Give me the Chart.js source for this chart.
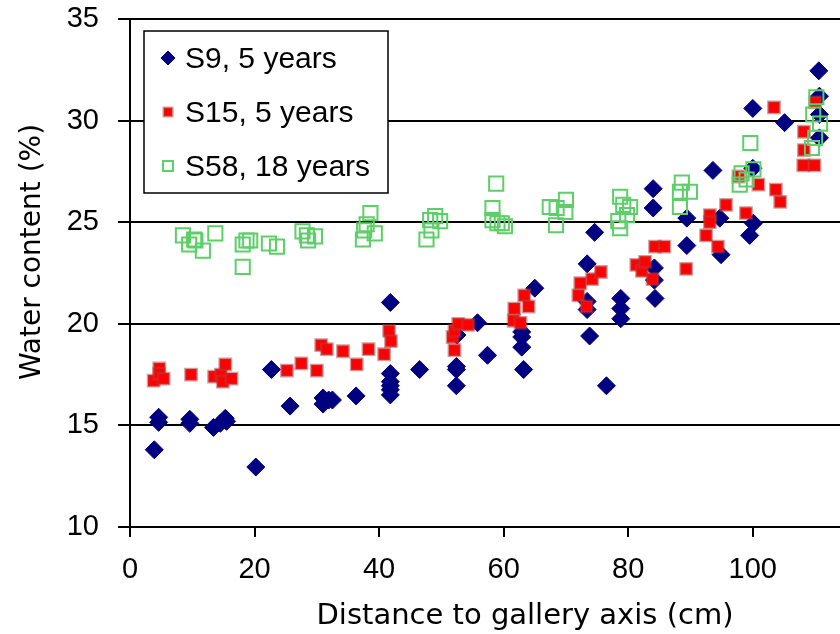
<!DOCTYPE html>
<html>
<head>
<meta charset="utf-8">
<script src="https://cdn.jsdelivr.net/npm/chart.js@4.4.1/dist/chart.umd.min.js"></script>
<style>
  html, body { margin: 0; padding: 0; background: #fff; overflow: hidden; }
</style>
</head>
<body>
<canvas id="waterChart" width="840" height="634"></canvas>
<script>
// S9, 5 years
const distS9 = [3.9, 4.6, 4.6, 9.6, 9.6, 13.4, 14.5, 15.3, 15.5, 20.2, 22.7, 25.7, 31.0, 31.0, 31.9, 32.5, 36.3,
  41.8, 41.8, 41.8, 41.8, 41.8, 41.8, 46.5, 52.4, 52.4, 52.4, 52.5, 55.8, 57.4, 62.9, 62.9, 62.9, 63.2, 65.0,
  73.4, 73.4, 73.4, 73.8, 74.6, 76.5, 78.8, 78.8, 78.8, 84.0, 84.0, 84.2, 84.2, 84.3, 89.4, 89.4, 93.6, 94.7,
  94.9, 99.5, 100.0, 100.1, 100.0, 105.1, 110.6, 110.7, 110.7, 110.7];
const wcS9 = [13.8, 15.4, 15.15, 15.3, 15.1, 14.9, 15.1, 15.35, 15.2, 12.95, 17.75, 15.95, 16.35, 16.05, 16.25, 16.25, 16.45,
  21.05, 17.55, 17.15, 16.95, 16.75, 16.5, 17.75, 17.9, 17.75, 16.95, 19.45, 20.05, 18.45, 19.6, 19.35, 18.85, 17.75, 21.75,
  22.95, 21.1, 20.7, 19.4, 24.5, 16.95, 21.25, 20.75, 20.25, 26.65, 25.7, 22.75, 22.15, 21.25, 25.2, 23.85, 27.55, 25.2,
  23.4, 24.35, 30.6, 24.95, 27.65, 29.9, 32.45, 31.2, 30.3, 29.15];

// S15, 5 years
const distS15 = [3.8, 4.7, 4.7, 5.4, 9.8, 13.5, 14.6, 14.9, 15.3, 16.3, 25.2, 27.5, 30.0, 30.7, 31.6, 34.2, 36.4, 38.3,
  40.8, 41.6, 41.9, 51.8, 52.1, 52.1, 52.7, 54.3, 61.6, 61.7, 62.7, 63.3, 64.0, 72.3, 72.0, 73.3, 74.2, 75.6,
  81.3, 82.2, 82.7, 83.9, 84.3, 85.8, 89.3, 92.5, 93.1, 93.1, 94.4, 95.7, 97.7, 98.9, 100.9, 103.4, 103.7, 104.4,
  108.1, 108.2, 108.2, 109.9, 110.0];
const wcS15 = [17.2, 17.8, 17.55, 17.3, 17.5, 17.4, 17.5, 17.15, 18.0, 17.3, 17.7, 18.05, 17.7, 18.95, 18.75, 18.65, 18.0, 18.75,
  18.5, 19.65, 19.15, 19.35, 19.65, 18.7, 20.0, 19.95, 20.15, 20.75, 20.05, 21.4, 20.85, 22.0, 21.4, 20.85, 22.2, 22.55,
  22.9, 22.6, 23.05, 22.2, 23.8, 23.8, 22.7, 24.35, 25.35, 25.0, 23.8, 25.85, 27.25, 25.45, 26.85, 30.65, 26.6, 26.0,
  27.8, 29.45, 28.55, 27.8, 30.9];

// S58, 18 years
const distS58 = [8.5, 9.5, 10.3, 10.5, 11.7, 13.7, 18.1, 18.1, 18.7, 19.3, 22.3, 23.6, 27.7, 28.4, 28.6, 29.7,
  37.4, 37.6, 38.0, 38.6, 39.3, 47.6, 48.2, 48.4, 49.0, 49.8, 58.2, 58.2, 58.8, 59.0, 59.7, 60.2,
  67.4, 68.4, 68.5, 69.9, 70.0, 78.4, 78.7, 78.7, 79.2, 79.8, 80.3, 88.3, 88.3, 88.6, 89.9,
  97.9, 98.2, 99.0, 99.6, 100.1, 109.5, 109.7, 110.0, 110.2, 110.8];
const wcS58 = [24.35, 23.9, 24.15, 24.1, 23.6, 24.45, 22.8, 23.9, 24.1, 24.1, 23.95, 23.8, 24.55, 24.35, 24.1, 24.3,
  24.15, 24.6, 24.9, 25.45, 24.45, 24.15, 25.1, 24.6, 25.3, 25.05, 25.7, 25.1, 26.9, 24.95, 24.95, 24.8,
  25.75, 24.85, 25.7, 25.5, 26.1, 25.05, 24.7, 26.25, 25.85, 25.35, 25.75, 26.5, 25.75, 26.95, 26.5,
  26.85, 27.4, 27.1, 28.9, 27.6, 28.65, 30.3, 29.15, 31.15, 29.85];

const seriesNames = ["S9, 5 years", "S15, 5 years", "S58, 18 years"];
const xTicks = [0, 20, 40, 60, 80, 100];
const yTicks = [10, 15, 20, 25, 30, 35];
const xTitle = "Distance to gallery axis (cm)";
const yTitle = "Water content (%)";

function pairs(xs, ys) {
  return xs.map((x, i) => ({ x: x, y: ys[i] }));
}

const tickFont = { family: "'Liberation Sans', Arial, sans-serif", size: 29 };

// legend box + axis titles drawn on top of the plot
const overlay = {
  id: "overlay",
  afterDraw(chart) {
    const ctx = chart.ctx;
    ctx.save();

    ctx.fillStyle = "#000";
    ctx.textAlign = "center";
    ctx.textBaseline = "alphabetic";
    ctx.font = "29px 'DejaVu Sans'";
    ctx.fillText(xTitle, 525, 624);

    ctx.save();
    ctx.translate(40, 252);
    ctx.rotate(-Math.PI / 2);
    ctx.font = "28px 'DejaVu Sans'";
    ctx.fillText(yTitle, 0, 0);
    ctx.restore();

    // legend
    ctx.fillStyle = "#fff";
    ctx.fillRect(144, 31, 244, 162);
    ctx.strokeStyle = "#000";
    ctx.lineWidth = 1.5;
    ctx.strokeRect(144, 31, 244, 162);

    const rows = [58, 112, 166];
    const sizes = [7, 6, 7];
    chart.data.datasets.forEach((ds, i) => {
      ctx.save();
      ctx.fillStyle = ds.backgroundColor;
      ctx.strokeStyle = ds.borderColor;
      ctx.lineWidth = ds.borderWidth;
      Chart.helpers.drawPoint(ctx, {
        pointStyle: ds.pointStyle, radius: sizes[i], rotation: 0, borderWidth: ds.borderWidth
      }, 168, rows[i]);
      ctx.restore();
      ctx.fillStyle = "#000";
      ctx.textAlign = "left";
      ctx.font = "30px 'Liberation Sans'";
      ctx.fillText(ds.label, 185, rows[i] + 10);
    });
    ctx.restore();
  }
};

new Chart(document.getElementById("waterChart"), {
  type: "scatter",
  data: {
    datasets: [
      {
        label: seriesNames[0],
        data: pairs(distS9, wcS9),
        pointStyle: "rectRot",
        pointRadius: 9,
        backgroundColor: "#000080",
        borderColor: "#000080",
        borderWidth: 1,
        order: 3
      },
      {
        label: seriesNames[1],
        data: pairs(distS15, wcS15),
        pointStyle: "rect",
        pointRadius: 8,
        backgroundColor: "#ff0000",
        borderColor: "rgba(180,60,60,0.5)",
        borderWidth: 2.5,
        order: 2
      },
      {
        label: seriesNames[2],
        data: pairs(distS58, wcS58),
        pointStyle: "rect",
        pointRadius: 10,
        backgroundColor: "rgba(0,0,0,0)",
        borderColor: "#5ccf68",
        borderWidth: 2,
        order: 1
      }
    ]
  },
  options: {
    responsive: false,
    animation: false,
    layout: { autoPadding: false, padding: { top: 19, right: 0, left: 0, bottom: 0 } },
    plugins: {
      legend: { display: false },
      tooltip: { enabled: false }
    },
    scales: {
      x: {
        type: "linear",
        min: 0,
        max: 114,
        afterFit(scale) {
          scale.height = 107;
          scale.paddingLeft = 0;
          scale.paddingRight = 0;
        },
        afterBuildTicks(scale) { scale.ticks = xTicks.map(v => ({ value: v })); },
        ticks: { stepSize: 20, includeBounds: false, color: "#000", font: tickFont, padding: 16, maxRotation: 0 },
        grid: { drawOnChartArea: false, drawTicks: true, tickLength: 10, color: "#000", lineWidth: 2 },
        border: { display: true, color: "#000", width: 2 }
      },
      y: {
        min: 10,
        max: 35,
        afterFit(scale) {
          scale.width = 130;
          scale.paddingTop = 0;
          scale.paddingBottom = 0;
        },
        afterBuildTicks(scale) { scale.ticks = yTicks.map(v => ({ value: v })); },
        ticks: { stepSize: 5, color: "#000", font: tickFont, padding: 19 },
        grid: { color: "#000", lineWidth: 2, tickLength: 12 },
        border: { display: true, color: "#000", width: 2 }
      }
    }
  },
  plugins: [overlay]
});
</script>
</body>
</html>
